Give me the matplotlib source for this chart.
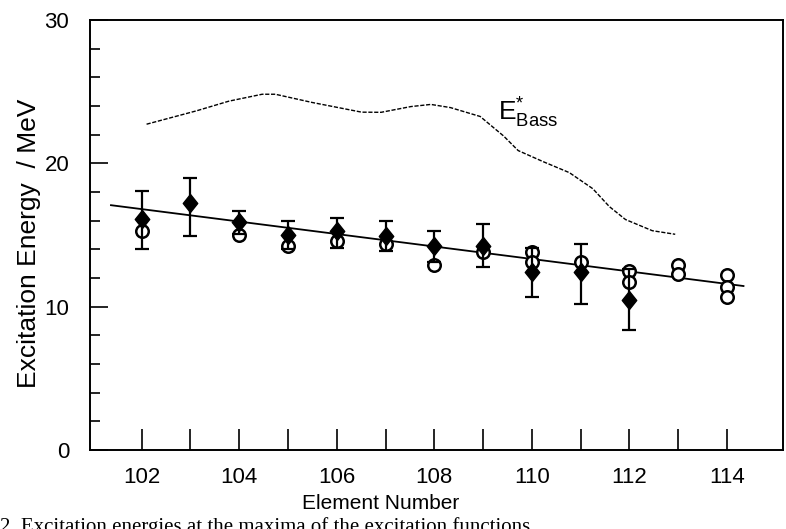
import numpy as np
import matplotlib
matplotlib.use('Agg')
import matplotlib.pyplot as plt

plt.rcParams['font.family'] = ['Liberation Sans', 'DejaVu Sans']

# measured excitation energies (filled diamonds) with error bar ends
z_meas = [102, 103, 104, 105, 106, 107, 108, 109, 110, 111, 112]
e_meas = [16.1, 17.2, 15.9, 15.0, 15.3, 14.9, 14.2, 14.2, 12.4, 12.4, 10.5]
e_top = [18.1, 19.0, 16.7, 16.0, 16.2, 16.0, 15.3, 15.8, 14.1, 14.4, 12.6]
e_bot = [14.0, 14.9, 15.1, 14.0, 14.1, 13.9, 13.1, 12.8, 10.7, 10.2, 8.4]

# calculated values (open circles)
z_calc = [102, 104, 105, 106, 107, 108, 109, 110, 110, 111, 112, 112, 113, 113, 114, 114, 114]
e_calc = [15.3, 15.0, 14.2, 14.6, 14.4, 12.9, 13.8, 13.8, 13.1, 13.1, 12.5, 11.7, 12.9, 12.3, 12.2, 11.4, 10.7]

# straight line fit, end points
fit_z = [101.37, 114.34]
fit_e = [17.08, 11.44]

# E*_Bass curve
bass_z = [102.10, 103.12, 103.79, 104.47, 104.74, 105.49, 106.51, 106.91, 107.52, 107.93,
          108.33, 108.94, 109.42, 109.72, 110.23, 110.77, 111.25, 111.59, 111.92, 112.47, 112.94]
bass_e = [22.73, 23.66, 24.34, 24.82, 24.82, 24.25, 23.57, 23.56, 23.96, 24.11,
          23.89, 23.27, 21.91, 20.89, 20.12, 19.35, 18.23, 16.98, 16.08, 15.30, 15.05]

x_ticks = list(range(102, 115))
x_labels = [str(z) if z % 2 == 0 else '' for z in x_ticks]

fig = plt.figure(figsize=(7.86, 5.29), dpi=100)
ax = fig.add_axes([90 / 786, 1 - 450 / 529, 693 / 786, 430 / 529])

ax.plot(fit_z, fit_e, color='black', lw=1.3, zorder=2)
ax.plot(bass_z, bass_e, color='black', lw=1.0, ls=(0, (3, 1.2)), zorder=2)

ax.plot(z_calc, e_calc, ls='none', marker='o', ms=9, mfc='white', mec='black',
        mew=1.8, zorder=3)

lo = np.array(e_meas) - np.array(e_bot)
hi = np.array(e_top) - np.array(e_meas)
diamond = [(0, 1), (0.8, 0), (0, -1), (-0.8, 0), (0, 1)]
ax.errorbar(z_meas, e_meas, yerr=[lo, hi], fmt='none', ecolor='black',
            elinewidth=1.6, capsize=5, capthick=1.6, zorder=4)
ax.plot(z_meas, e_meas, ls='none', marker=diamond, ms=13, color='black', zorder=5)

ax.text(109.3, 23.5, r'$\mathregular{E^{*}_{Bass}}$', fontsize=19, ha='left', va='center')

ax.set_xlim(100.94, 115.15)
ax.set_ylim(0, 30)
ax.set_xticks(x_ticks)
ax.set_xticklabels(x_labels)
ax.set_yticks([0, 10, 20, 30])
ax.set_yticks(np.arange(2, 30, 2), minor=True)
ax.tick_params(axis='x', which='major', direction='in', length=15, width=1.2,
               labelsize=16, pad=12)
ax.tick_params(axis='y', which='major', direction='in', length=13, width=1.2,
               labelsize=16, pad=15)
ax.tick_params(axis='y', which='minor', direction='in', length=7, width=1.2)
for s in ax.spines.values():
    s.set_linewidth(1.4)

ax.text(0.42, -0.125, 'Element Number', transform=ax.transAxes, fontsize=15,
        ha='center', va='center')
ax.set_ylabel('Excitation Energy  / MeV', fontsize=19)
ax.yaxis.label.set_va('center')
ax.yaxis.set_label_coords(-0.088, 0.48)

fig.text(0.0, 0.023, '2. Excitation energies at the maxima of the excitation functions',
         family=['Liberation Serif', 'DejaVu Serif'], fontsize=15, ha='left', va='top')

fig.savefig('out.png', dpi=100)
